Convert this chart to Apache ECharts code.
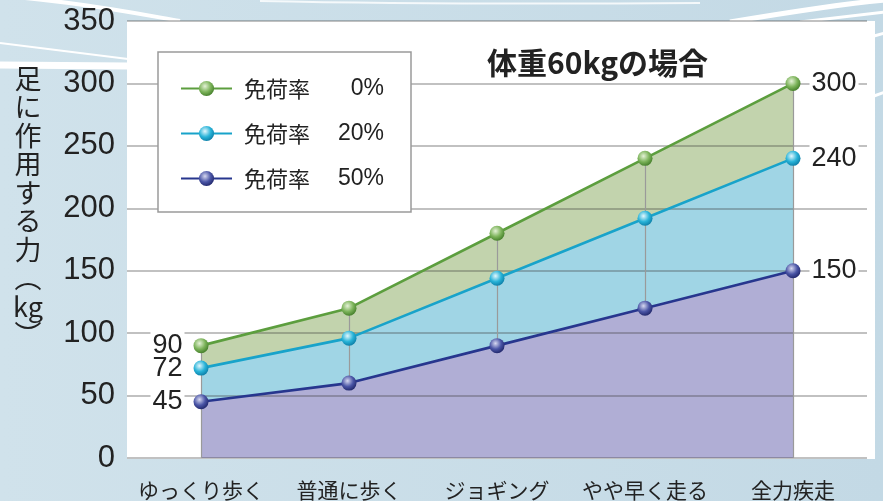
<!DOCTYPE html>
<html><head><meta charset="utf-8">
<script src="https://cdn.jsdelivr.net/npm/echarts@6/dist/echarts.min.js"></script>
<style>html,body{margin:0;padding:0;background:#fff}#c{width:883px;height:501px;}</style>
</head><body><div id="c"></div>
<script>
// ---- data ----
const categories = ['ゆっくり歩く', '普通に歩く', 'ジョギング', 'やや早く走る', '全力疾走'];
const load0 = [90, 120, 180, 240, 300];
const load20 = [72, 96, 144, 192, 240];
const load50 = [45, 60, 90, 120, 150];
const seriesNames = ['免荷率 0%', '免荷率 20%', '免荷率 50%'];
const yMin = 0, yMax = 350, yStep = 50;
const titleText = '体重60kgの場合';
const yName = ['足', 'に', '作', '用', 'す', 'る', '力', '︵', 'kg', '︶'];

// ---- styles ----
const NUM = '"Liberation Sans", Arial, sans-serif';
const JP = '"Noto Sans CJK JP", sans-serif';
const lineColors = ['#5c9e3e', '#18a3ca', '#27368e'];
const areaColors = ['#c2d3ad', '#a0d5e5', '#b0aed5'];
const balls = [
  ['#e4f2d6', '#7cb35a', '#3f7a26'],
  ['#e2f7fd', '#28b3d8', '#0a7aa3'],
  ['#d6d8f0', '#4a55a6', '#1d2366']
];
const allData = [load0, load20, load50];
function ball(c) {
  return { type: 'radial', x: 0.4, y: 0.35, r: 0.7,
    colorStops: [{ offset: 0, color: c[0] }, { offset: 0.55, color: c[1] }, { offset: 1, color: c[2] }] };
}
const last = categories.length - 1;
const labelBase = { show: true, fontFamily: NUM, fontSize: 27, color: '#222', backgroundColor: '#fff', padding: [1, 2] };

const series = [];
allData.forEach((d, k) => {
  const s = {
    name: 'area' + k, type: 'line', data: d, showSymbol: false, silent: true, z: 1,
    lineStyle: { width: 0 }, areaStyle: { color: areaColors[k], opacity: 1 }, animation: false
  };
  if (k === 2) {
    s.markLine = {
      silent: true, symbol: 'none', animation: false,
      label: { show: false },
      lineStyle: { color: '#9a9a9a', width: 1.2, type: 'solid' },
      data: categories.map((c, i) => [
        { coord: [i, load0[i]] },
        { coord: [i, (i === 0 || i === last) ? 0 : load50[i]] }
      ])
    };
  }
  series.push(s);
});
allData.forEach((d, k) => {
  series.push({
    name: seriesNames[k], type: 'line', z: 5, animation: false,
    symbol: 'circle', symbolSize: 15,
    lineStyle: { color: lineColors[k], width: 2.6 },
    itemStyle: { color: ball(balls[k]) },
    data: d.map((v, i) => {
      if (i === 0) return { value: v, label: Object.assign({}, labelBase, { position: 'left', distance: 9 }) };
      if (i === last) return { value: v, label: Object.assign({}, labelBase, { position: 'right', distance: 9 }) };
      return v;
    })
  });
});

const chart = echarts.init(document.getElementById('c'), null, { renderer: 'canvas' });
chart.setOption({
  animation: false,
  backgroundColor: { type: 'linear', x: 0, y: 0, x2: 1, y2: 0,
    colorStops: [{ offset: 0, color: '#d0e2eb' }, { offset: 1, color: '#c3d9e5' }] },
  title: { text: titleText, left: 482, top: 43,
    textStyle: { fontFamily: JP, fontSize: 30, fontWeight: 'bold', color: '#222' } },
  grid: { left: 127, right: 16, top: 21, bottom: 42 },
  legend: {
    data: seriesNames, orient: 'vertical', left: 158, top: 52,
    backgroundColor: '#fff', borderColor: '#9a9a9a', borderWidth: 1.5,
    padding: [25, 27, 22, 22], itemGap: 22, itemWidth: 51, itemHeight: 19,
    formatter: n => { const p = n.split(' '); return '{a|' + p[0] + '}{b|' + p[1] + '}'; },
    textStyle: { rich: {
      a: { fontFamily: JP, fontSize: 22, color: '#222', padding: [0, 0, 0, 7], lineHeight: 27 },
      b: { fontFamily: NUM, fontSize: 23, color: '#222', width: 74, align: 'right', lineHeight: 27 }
    } }
  },
  xAxis: {
    type: 'category', data: categories, boundaryGap: true,
    axisLine: { show: false }, axisTick: { show: false },
    axisLabel: { fontFamily: JP, fontSize: 21, color: '#222', margin: 22, interval: 0 }
  },
  yAxis: {
    type: 'value', min: yMin, max: yMax, interval: yStep, z: 3,
    axisLine: { show: false }, axisTick: { show: false },
    axisLabel: { fontFamily: NUM, fontSize: 31, color: '#222', margin: 12 },
    splitLine: { lineStyle: { color: 'rgba(60,60,60,0.42)', width: 1.5 } }
  },
  graphic: [
    { type: 'bezierCurve', z: -5, silent: true, shape: { x1: 25, y1: -2, x2: 180, y2: 21, cpx1: 90, cpy1: 4, cpx2: 140, cpy2: 14 },
      style: { stroke: '#fff', lineWidth: 4, fill: null } },
    { type: 'line', z: -5, silent: true, shape: { x1: 0, y1: 43, x2: 128, y2: 59 }, style: { stroke: '#fff', lineWidth: 2 } },
    { type: 'line', z: -5, silent: true, shape: { x1: 0, y1: 65, x2: 128, y2: 66 }, style: { stroke: '#fff', lineWidth: 7 } },
    { type: 'bezierCurve', z: -5, silent: true, shape: { x1: 260, y1: 1, x2: 700, y2: 3, cpx1: 400, cpy1: 4, cpx2: 560, cpy2: 4 },
      style: { stroke: 'rgba(255,255,255,0.8)', lineWidth: 2, fill: null } },
    { type: 'bezierCurve', z: -5, silent: true, shape: { x1: 730, y1: 22, x2: 885, y2: 0, cpx1: 790, cpy1: 12, cpx2: 840, cpy2: 4 },
      style: { stroke: '#fff', lineWidth: 5, fill: null } },
    { type: 'line', z: -5, silent: true, shape: { x1: 800, y1: 22, x2: 885, y2: 12 }, style: { stroke: '#fff', lineWidth: 3 } },
    { type: 'line', z: -5, silent: true, shape: { x1: 874, y1: 36, x2: 885, y2: 33 }, style: { stroke: '#fff', lineWidth: 3 } },
    { type: 'line', z: -5, silent: true, shape: { x1: 874, y1: 96, x2: 885, y2: 92 }, style: { stroke: '#fff', lineWidth: 3 } },
    { type: 'rect', z: -4, silent: true, shape: { x: 127, y: 21, width: 748, height: 438 }, style: { fill: '#fff' } },
    { type: 'text', z: 10, silent: true, x: 28, y: 64,
      style: { text: yName.join('\n'), align: 'center', verticalAlign: 'top',
        font: '27px "Noto Sans CJK JP", sans-serif', lineHeight: 28.5, fill: '#222' } }
  ],
  series: series
});
</script>
</body></html>
